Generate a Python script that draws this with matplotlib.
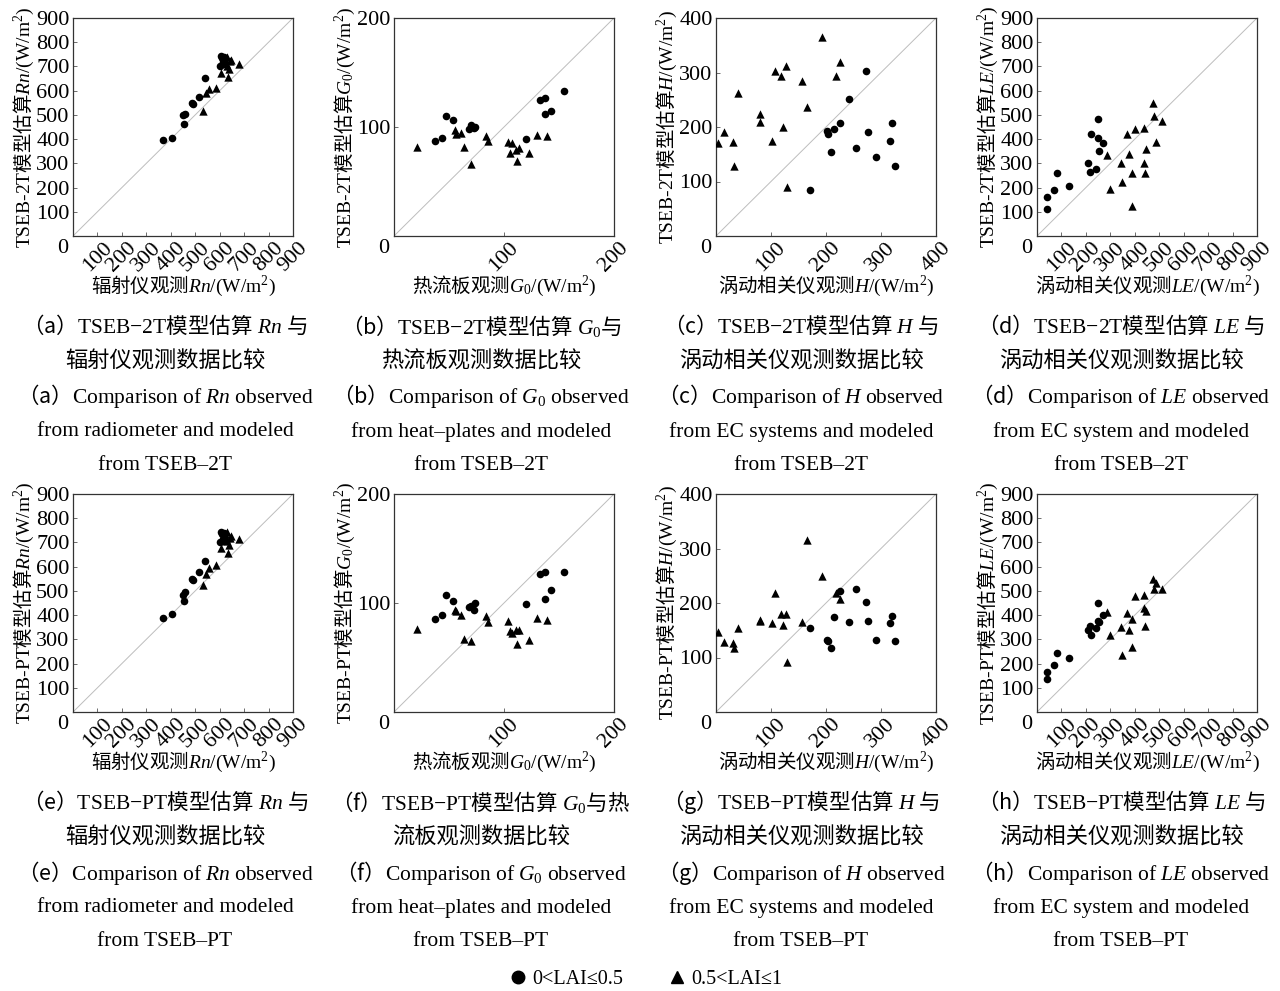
import matplotlib
matplotlib.use("Agg")
import matplotlib.pyplot as plt
from matplotlib.lines import Line2D

plt.rcParams['font.family'] = ['Liberation Serif', 'Noto Sans CJK SC']
plt.rcParams['mathtext.fontset'] = 'custom'
plt.rcParams['mathtext.rm'] = 'Liberation Serif'
plt.rcParams['mathtext.it'] = 'Liberation Serif:italic'
plt.rcParams['mathtext.bf'] = 'Liberation Serif:bold'

CJK = 'Noto Sans CJK SC'

# ---- net radiation Rn (W/m2) ----
rn_obs_low = [367, 404, 449, 454, 458, 486, 492, 516, 540, 603, 606, 609, 612, 615, 618]
rn_2t_low = [395, 405, 498, 463, 505, 550, 546, 572, 654, 700, 745, 735, 720, 712, 740]
rn_pt_low = [388, 406, 483, 459, 494, 549, 545, 576, 625, 700, 745, 735, 715, 705, 740]
rn_obs_high = [533, 544, 558, 584, 606, 620, 625, 628, 630, 633, 638, 642, 648, 680]
rn_2t_high = [518, 592, 608, 610, 675, 730, 715, 700, 740, 657, 688, 722, 728, 712]
rn_pt_high = [524, 569, 594, 608, 677, 735, 718, 705, 745, 656, 690, 720, 725, 715]

# ---- soil heat flux G0 (W/m2) ----
g0_obs_low = [37.4, 44, 47.4, 54, 68.4, 70, 72.3, 73.9, 120.4, 133, 137, 137, 143, 154.4]
g0_2t_low = [86.9, 90, 110, 106, 97.9, 101.5, 99.4, 100, 89.3, 125, 126.5, 112, 115, 132.6]
g0_pt_low = [85.3, 89, 107.6, 101.7, 96, 97.7, 93.6, 100, 99.2, 126.5, 128.7, 104, 112, 128.7]
g0_obs_high = [21, 55.5, 56.5, 61, 64, 70, 84, 85.5, 104, 105, 107, 111, 111.5, 114, 122.5, 130, 139]
g0_2t_high = [81.7, 97, 94, 94.5, 81.7, 66, 91.8, 87.2, 86.3, 76.2, 85.4, 79.3, 69, 80.8, 76.2, 92.4, 91.5]
g0_pt_high = [76.6, 94, 93, 89, 67.3, 65, 87.8, 82.2, 83.7, 74.4, 72.2, 75.3, 62, 75.3, 65.7, 86, 84.8]

# ---- sensible heat H (W/m2) ----
h_obs_low = [170.6, 201.8, 204, 209, 214, 225.7, 241.6, 253.8, 272, 277, 291, 316, 320, 324.8]
h_2t_low = [85, 192, 187.5, 155, 196.6, 207, 251.6, 161.8, 302, 190, 144.7, 175, 207, 127.6]
h_pt_low = [154, 132, 130.5, 118, 173.5, 221.5, 166, 226, 202, 167, 132, 164, 176.6, 130.5]
h_obs_high = [4.3, 15.3, 31.8, 33.6, 39.8, 79.5, 79.5, 102, 107, 119, 122, 126.6, 129.7, 156, 165, 192.7, 218, 226]
h_2t_high = [171, 190.5, 172, 127.6, 262, 224, 209, 175, 303.5, 294, 200, 312.7, 89.8, 285, 236, 366, 293, 319]
h_pt_high = [146.5, 129, 126, 118, 154, 169, 167, 163, 218.5, 180, 160, 180, 91, 165, 315, 249, 218.5, 207]

# ---- latent heat LE (W/m2) ----
le_obs_low = [40, 41, 68, 82, 129, 208, 215, 222, 243, 248, 250, 253, 269]
le_2t_low = [113, 163, 189, 259, 207, 300, 265, 420, 276, 482, 404, 349, 382]
le_pt_low = [137, 167, 193, 244, 223, 338, 353, 318, 346, 451, 377, 370, 402]
le_obs_high = [286, 300, 344, 347, 370, 376, 387, 390, 400, 436, 439, 443, 447, 473, 479, 486, 511]
le_2t_high = [335, 196, 303, 223, 420, 338, 259, 124, 441, 303, 444, 262, 358, 548, 496, 389, 473]
le_pt_high = [414, 317, 352, 237, 410, 338, 382, 269, 480, 428, 481, 353, 416, 548, 509, 533, 507]

ticks_900 = [0, 100, 200, 300, 400, 500, 600, 700, 800, 900]
ticks_200 = [0, 100, 200]
ticks_400 = [0, 100, 200, 300, 400]

legend_labels = ['0<LAI≤0.5', '0.5<LAI≤1']

# variable: (limit, ticks, obs label, symbol, low obs, high obs)
variables = {
    'Rn': (900, ticks_900, '辐射仪观测', 'Rn', rn_obs_low, rn_obs_high),
    'G0': (200, ticks_200, '热流板观测', 'G_0', g0_obs_low, g0_obs_high),
    'H': (400, ticks_400, '涡动相关仪观测', 'H', h_obs_low, h_obs_high),
    'LE': (900, ticks_900, '涡动相关仪观测', 'LE', le_obs_low, le_obs_high),
}

model_values = {
    ('2T', 'Rn'): (rn_2t_low, rn_2t_high), ('PT', 'Rn'): (rn_pt_low, rn_pt_high),
    ('2T', 'G0'): (g0_2t_low, g0_2t_high), ('PT', 'G0'): (g0_pt_low, g0_pt_high),
    ('2T', 'H'): (h_2t_low, h_2t_high), ('PT', 'H'): (h_pt_low, h_pt_high),
    ('2T', 'LE'): (le_2t_low, le_2t_high), ('PT', 'LE'): (le_pt_low, le_pt_high),
}

captions = {
    ('2T', 'Rn'): ['a', r'$\ Rn\ $与', '辐射仪观测数据比较', 'from radiometer and modeled'],
    ('2T', 'G0'): ['b', r'$\ G_0$与', '热流板观测数据比较', 'from heat–plates and modeled'],
    ('2T', 'H'): ['c', r'$\ H\ $与', '涡动相关仪观测数据比较', 'from EC systems and modeled'],
    ('2T', 'LE'): ['d', r'$\ LE\ $与', '涡动相关仪观测数据比较', 'from EC system and modeled'],
    ('PT', 'Rn'): ['e', r'$\ Rn\ $与', '辐射仪观测数据比较', 'from radiometer and modeled'],
    ('PT', 'G0'): ['f', r'$\ G_0$与热', '流板观测数据比较', 'from heat–plates and modeled'],
    ('PT', 'H'): ['g', r'$\ H\ $与', '涡动相关仪观测数据比较', 'from EC systems and modeled'],
    ('PT', 'LE'): ['h', r'$\ LE\ $与', '涡动相关仪观测数据比较', 'from EC system and modeled'],
}

W, H_PX = 1280, 991
fig = plt.figure(figsize=(12.8, 9.91), dpi=100)

col_left = [73, 394, 716, 1037]
col_center = [165, 481, 801, 1121]
row_top = {'2T': 18, 'PT': 494}
row_caption = {'2T': [326, 361, 396, 432, 466], 'PT': [802, 837, 873, 908, 942]}
ax_w, ax_h = 220, 218

for model in ['2T', 'PT']:
    for j, var in enumerate(['Rn', 'G0', 'H', 'LE']):
        lim, ticks, obs_name, sym, obs_low, obs_high = variables[var]
        mod_low, mod_high = model_values[(model, var)]

        ax = fig.add_axes([col_left[j] / W, 1 - (row_top[model] + ax_h) / H_PX,
                           ax_w / W, ax_h / H_PX])
        ax.plot([0, lim], [0, lim], color='#bdbdbd', lw=0.7, zorder=1)
        ax.scatter(obs_low, mod_low, marker='o', s=30, color='black', lw=0, zorder=3)
        ax.scatter(obs_high, mod_high, marker='^', s=36, color='black', lw=0, zorder=3)

        ax.set_xlim(0, lim)
        ax.set_ylim(0, lim)
        ax.set_xticks(ticks[1:])
        ax.set_xticklabels([str(t) for t in ticks[1:]], rotation=45,
                           ha='center', va='top', fontsize=16)
        ax.set_yticks(ticks)
        ax.set_yticklabels([''] + [str(t) for t in ticks[1:]], fontsize=16)
        ax.tick_params(direction='in', length=3, width=0.6, color='#555555')
        ax.tick_params(axis='x', pad=2)
        ax.tick_params(axis='y', pad=2.5)
        for sp in ax.spines.values():
            sp.set_color('#333333')
            sp.set_linewidth(0.9)

        # origin label sits a little below the corner
        ax.annotate('0', xy=(0, 0), xycoords='axes fraction', xytext=(-3.5, -9),
                    textcoords='offset points', ha='right', va='center', fontsize=16)

        ax.set_xlabel(obs_name + r'$' + sym + r'\mathrm{/(W/m^2)}$',
                      fontsize=14, fontfamily=CJK)
        ax.xaxis.set_label_coords(0.5, -0.175)
        ax.set_ylabel(r'$\mathrm{TSEB‐' + model + r'}$模型估算$' + sym + r'\mathrm{/(W/m^2)}$',
                      fontsize=14, fontfamily=CJK, labelpad=0)
        ax.yaxis.set_label_coords(-0.17, 0.5)

        letter, tail, line2, line4 = captions[(model, var)]
        cx = col_center[j] / W
        ys = [1 - y / H_PX for y in row_caption[model]]
        fig.text(cx, ys[0], '（' + letter + '）' + r'$\mathrm{TSEB{-}' + model + r'}$模型估算' + tail,
                 ha='center', va='center', fontsize=15.5, fontfamily=CJK)
        fig.text(cx, ys[1], line2, ha='center', va='center', fontsize=16, fontfamily=CJK)
        fig.text(cx, ys[2], '（' + letter + '）' + r'$\mathrm{Comparison\ of\ }' + sym + r'\mathrm{\ observed}$',
                 ha='center', va='center', fontsize=15.5, fontfamily=CJK)
        fig.text(cx, ys[3], line4, ha='center', va='center', fontsize=15.5)
        fig.text(cx, ys[4], 'from TSEB–' + model, ha='center', va='center', fontsize=15.5)

handles = [Line2D([], [], marker='o', ls='', color='black', ms=9),
           Line2D([], [], marker='^', ls='', color='black', ms=9)]
fig.legend(handles, legend_labels, loc='center', bbox_to_anchor=(645 / W, 1 - 979 / H_PX),
           ncol=2, frameon=False, fontsize=14.5, handletextpad=0.2, columnspacing=2.2,
           handlelength=1.0)

fig.savefig('out.png', dpi=100, facecolor='white')
